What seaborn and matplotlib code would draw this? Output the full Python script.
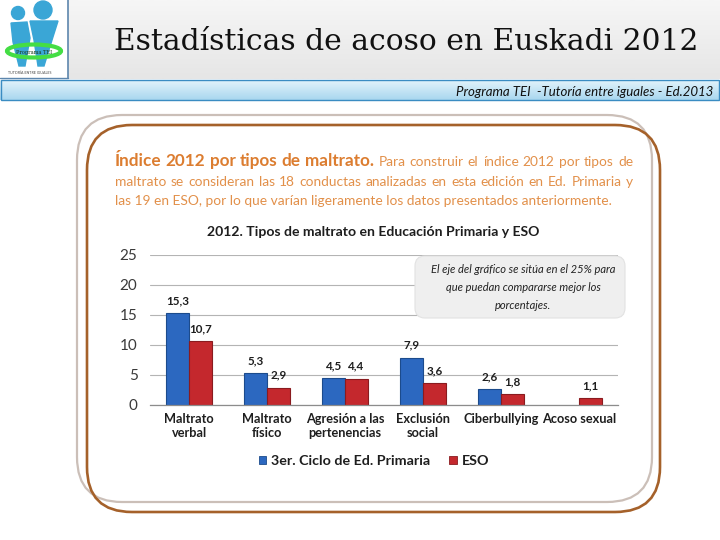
import numpy as np
import pandas as pd
import matplotlib
matplotlib.use("Agg")
import matplotlib.pyplot as plt
import seaborn as sns
from matplotlib.patches import FancyBboxPatch, Rectangle, Ellipse, Circle, Patch, Polygon
from matplotlib.colors import LinearSegmentedColormap

# ---------------- data ----------------
categories = ["Maltrato\nverbal", "Maltrato\nfísico", "Agresión a las\npertenencias",
              "Exclusión\nsocial", "Ciberbullying", "Acoso sexual"]
series = ["3er. Ciclo de Ed. Primaria", "ESO"]
primaria = [15.3, 5.3, 4.5, 7.9, 2.6, np.nan]
eso = [10.7, 2.9, 4.4, 3.6, 1.8, 1.1]
yticks = [0, 5, 10, 15, 20, 25]

df = pd.DataFrame({
    "Tipo": categories * 2,
    "Serie": [series[0]] * len(categories) + [series[1]] * len(categories),
    "Valor": primaria + eso,
})

BLUE = "#2c68c0"
RED = "#c4282d"

sns.set_theme(style="white")
plt.rcParams['font.family'] = ['Lato', 'DejaVu Sans']

W, H = 720, 540
fig = plt.figure(figsize=(7.2, 5.4), dpi=100)
fig.patch.set_facecolor('white')

# background axes in pixel coordinates
bg = fig.add_axes([0, 0, 1, 1], zorder=0)
bg.set_xlim(0, W)
bg.set_ylim(H, 0)
bg.axis('off')

# header gradient
hdr = LinearSegmentedColormap.from_list("hdr", ["#f6f6f6", "#e6e6e6"])
bg.imshow(np.linspace(0, 1, 50).reshape(-1, 1), cmap=hdr, aspect='auto',
          extent=(68, W, 79, 0), zorder=0)
# blue band
band = LinearSegmentedColormap.from_list("band", ["#e2f3fb", "#a9d7ef"])
bg.imshow(np.linspace(0, 1, 50).reshape(-1, 1), cmap=band, aspect='auto',
          extent=(0, W, 100, 80), zorder=0)
bg.add_patch(Rectangle((0.5, 80), W - 1.5, 20, fill=False, edgecolor='#3a8cc2', lw=1.0, zorder=1))
bg.set_xlim(0, W)
bg.set_ylim(H, 0)

# logo
bg.add_patch(Rectangle((0, 0), 68, 78, facecolor='white', edgecolor='none', zorder=1))
bg.plot([68, 68], [0, 78], color='#5d86ad', lw=1.2, zorder=2)
bg.plot([0, 68], [78, 78], color='#5d86ad', lw=1.0, zorder=2)
lb = '#3aa6d6'
bg.add_patch(Circle((18, 13), 6.5, color=lb, zorder=2))
bg.add_patch(Circle((43, 10), 9, color=lb, zorder=2))
bg.add_patch(Polygon([(11, 23), (27, 22), (30, 38), (25, 66), (19, 66), (13, 42)], closed=True, color=lb, zorder=2))
bg.add_patch(Polygon([(30, 21), (58, 21), (52, 40), (44, 66), (38, 66), (34, 40)], closed=True, color=lb, zorder=2))
bg.add_patch(Ellipse((34, 51), 54, 13, fill=False, edgecolor='#44dd44', lw=3.0, zorder=3))
bg.text(34, 54, "Programa TEI", ha='center', va='baseline', fontsize=3.6,
        family='DejaVu Serif', color='#1a3d1a', zorder=4)
bg.text(30, 74, "TUTORÍA ENTRE IGUALES", ha='center', va='baseline', fontsize=2.6,
        color='#444444', zorder=4)

renderer = fig.canvas.get_renderer()

def fit_size(txt, target_w, base=10, **props):
    t = bg.text(0, 0, txt, fontsize=base, **props)
    w = t.get_window_extent(renderer).width
    t.remove()
    return base * target_w / w

# title
tsize = fit_size("Estadísticas de acoso en Euskadi 2012", 585, family='DejaVu Serif')
bg.text(406, 50, "Estadísticas de acoso en Euskadi 2012", ha='center', va='baseline',
        family='DejaVu Serif', fontsize=tsize, color='#111111', zorder=3)

# subtitle in band
sub = "Programa TEI  -Tutoría entre iguales - Ed.2013"
ssize = min(fit_size(sub, 258, style='italic'), 9.6)
bg.text(713, 95.5, sub, ha='right', va='baseline',
        style='italic', fontsize=ssize, color='#111111', zorder=3)

# rounded boxes
bg.add_patch(FancyBboxPatch((77, 115), 575, 387, boxstyle='round,pad=0,rounding_size=45',
                            fill=False, edgecolor='#cbbfb8', lw=1.6, zorder=2))
bg.add_patch(FancyBboxPatch((87, 125), 573, 387, boxstyle='round,pad=0,rounding_size=45',
                            fill=False, edgecolor='#a5612a', lw=1.9, zorder=2))

# orange paragraph
OR_B = '#dc7d30'
OR_R = '#e2904a'
line1_bold = "Índice 2012 por tipos de maltrato."
line1_reg = "Para construir el índice 2012 por tipos de"
line2 = "maltrato se consideran las 18 conductas analizadas en esta edición en Ed. Primaria y"
line3 = "las 19 en ESO, por lo que varían ligeramente los datos presentados anteriormente."
bsize = fit_size(line1_bold, 259, fontweight='bold')
rsize = fit_size(line3, 494)

def place_justified(pieces, x0, x1, y):
    texts, widths = [], []
    for word, props in pieces:
        t = bg.text(0, y, word, ha='left', va='baseline', zorder=3, **props)
        texts.append(t)
        widths.append(t.get_window_extent(renderer).width)
    gap = (x1 - x0 - sum(widths)) / (len(pieces) - 1)
    x = x0
    for t, w in zip(texts, widths):
        t.set_x(x)
        x += w + gap

pb = dict(fontsize=bsize, fontweight='bold', color=OR_B)
pr = dict(fontsize=rsize, color=OR_R)
pieces1 = [(w, pb) for w in line1_bold.split()] + [(w, pr) for w in line1_reg.split()]
place_justified(pieces1, 115, 633, 166)
place_justified([(w, pr) for w in line2.split()], 115, 633, 186)
bg.text(115, 205, line3, ha='left', va='baseline', zorder=3, **pr)

# chart title
csize = fit_size("2012. Tipos de maltrato en Educación Primaria y ESO", 333, fontweight='bold')
bg.text(373, 236, "2012. Tipos de maltrato en Educación Primaria y ESO", ha='center', va='baseline',
        fontsize=csize, fontweight='bold', color='#1e1e1e', zorder=3)

# ---------------- chart ----------------
ax = fig.add_axes([150 / W, 1 - 405 / H, 468 / W, 150 / H], zorder=2)
ax.patch.set_alpha(0)
sns.barplot(data=df, x="Tipo", y="Valor", hue="Serie", order=categories, hue_order=series,
            palette=[BLUE, RED], saturation=1, width=0.58, gap=0, legend=False, ax=ax,
            errorbar=None)
edge_cols = ["#1c4b8c", "#8a1b1f"]
for cont, ec in zip(ax.containers, edge_cols):
    for bar in cont:
        bar.set_edgecolor(ec)
        bar.set_linewidth(0.8)
    labels = [("" if np.isnan(v) else f"{v:.1f}".replace('.', ',')) for v in cont.datavalues]
    ax.bar_label(cont, labels=labels, padding=5, fontsize=8.4, fontweight='bold', color='#1e1e1e')

ax.set_xlim(-0.5, len(categories) - 0.5)
ax.set_ylim(0, 25)
ax.set_yticks(yticks)
ax.set_yticklabels([str(v) for v in yticks], fontsize=11, color='#3a3a3a')
ax.set_xticks(range(len(categories)))
ax.set_xticklabels(categories, fontsize=9.2, fontweight='bold', color='#1e1e1e', linespacing=1.2)
ax.set_xticks(np.arange(-0.5, len(categories), 1), minor=True)
ax.tick_params(axis='x', which='major', length=0, pad=6)
ax.tick_params(axis='x', which='minor', length=5, width=0.8, color='#8c8c8c', direction='out')
ax.tick_params(axis='y', length=0, pad=9)
ax.set_xlabel("")
ax.set_ylabel("")
ax.yaxis.grid(True, color='#b4b4b4', lw=0.8)
ax.xaxis.grid(False)
ax.set_axisbelow(True)
for s in ['top', 'right', 'left']:
    ax.spines[s].set_visible(False)
ax.spines['bottom'].set_color('#8c8c8c')
ax.spines['bottom'].set_linewidth(0.9)

# legend
handles = [Patch(facecolor=BLUE, edgecolor=edge_cols[0], lw=0.6),
           Patch(facecolor=RED, edgecolor=edge_cols[1], lw=0.6)]
fig.legend(handles, series, loc='center', bbox_to_anchor=(374 / W, 1 - 461 / H), ncol=2,
           frameon=False, prop=dict(size=10.3, weight='bold'), handlelength=0.55, handleheight=0.55,
           handletextpad=0.35, columnspacing=1.3, labelcolor='#1e1e1e')

# overlay note box
ov = fig.add_axes([0, 0, 1, 1], zorder=3)
ov.set_xlim(0, W)
ov.set_ylim(H, 0)
ov.axis('off')
ov.patch.set_alpha(0)
ov.add_patch(FancyBboxPatch((415, 256), 210, 62, boxstyle='round,pad=0,rounding_size=10',
                            facecolor='#efefef', edgecolor='#e2e2e2', lw=0.8))
for txt, y in [("El eje del gráfico se sitúa en el 25% para", 273),
               ("que puedan compararse mejor los", 291),
               ("porcentajes.", 309)]:
    ov.text(523, y, txt, ha='center', va='baseline', fontsize=8.0, style='italic', color='#222222')

fig.savefig("out.png", dpi=100)
